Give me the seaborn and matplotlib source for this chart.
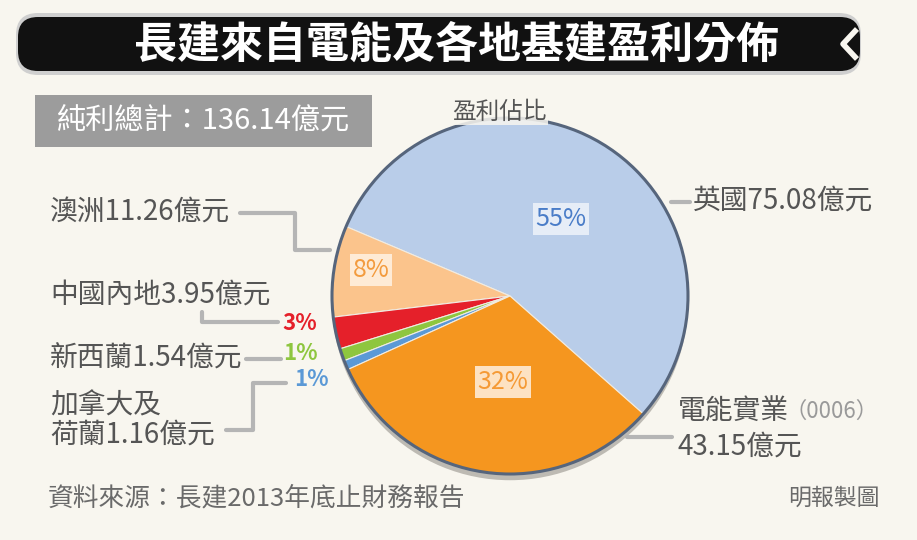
import matplotlib
matplotlib.use("Agg")
import matplotlib.pyplot as plt
import seaborn as sns
from matplotlib.patches import FancyBboxPatch, Rectangle

# ---- data ----
regions = ["英國", "澳洲", "中國內地", "新西蘭", "加拿大及荷蘭", "電能實業"]
profits = [75.08, 11.26, 3.95, 1.54, 1.16, 43.15]  # 億元
slice_colors = ["#b9cde9", "#fbc48c", "#e5202a", "#8ec63f", "#5b99d6", "#f5961f"]
title = "長建來自電能及各地基建盈利分佈"
total_label = "純利總計：136.14億元"
pie_title = "盈利佔比"
source = "資料來源：長建2013年底止財務報告"
credit = "明報製圖"

sns.set_theme(style="white")
plt.rcParams["font.family"] = ["Noto Sans CJK TC", "DejaVu Sans"]

BG = "#f8f6ef"
W, H = 917, 540
fig = plt.figure(figsize=(W / 100, H / 100), dpi=100, facecolor=BG)

# pie axes
cx, cy, R = 510, 296, 178
Ra = R * 1.05
pax = fig.add_axes([(cx - Ra) / W, (H - cy - Ra) / H, 2 * Ra / W, 2 * Ra / H])
pax.set_facecolor("none")
total = sum(profits)
# shadow
pax.pie([1], colors=["#bdbab3"], radius=1.0, center=(0.0, -0.035),
        wedgeprops=dict(linewidth=0))
pax.pie(profits, colors=slice_colors, startangle=-41.5, counterclock=True,
        radius=1.0, wedgeprops=dict(linewidth=0.8, edgecolor="#f1ece2"))
pax.pie([1], colors=["none"], radius=1.0,
        wedgeprops=dict(linewidth=2.2, edgecolor="#56657c", fill=False))
pax.set_xlim(-1.05, 1.05)
pax.set_ylim(-1.05, 1.05)
pax.set_aspect("equal")
pax.axis("off")

# overlay axes in pixel coordinates
ax = fig.add_axes([0, 0, 1, 1], zorder=5)
ax.set_xlim(0, W)
ax.set_ylim(H, 0)
ax.set_facecolor("none")
ax.axis("off")

pct = [f"{round(v / total * 100):d}%" for v in profits]

# title banner
ax.add_patch(FancyBboxPatch((16, 13), 845, 62, boxstyle="round,pad=0,rounding_size=22",
                            facecolor="#cfcfcf", edgecolor="none"))
ax.add_patch(FancyBboxPatch((18, 17), 842, 54, boxstyle="round,pad=0,rounding_size=20",
                            facecolor="#111111", edgecolor="none"))
ax.plot([857, 843, 857], [29, 44, 59], color=BG, lw=4, solid_capstyle="butt")
ax.text(456, 45, title, color="white", fontsize=31, fontweight="bold",
        ha="center", va="center")

# total box
ax.add_patch(Rectangle((35, 95), 337, 52, facecolor="#9c9c9c", edgecolor="none"))
ax.text(204, 121, total_label, color="white", fontsize=21, ha="center", va="center",
        fontweight="medium")

# pie title
ax.text(499, 112, pie_title, color="#555555", fontsize=17, ha="center", va="center",
        bbox=dict(facecolor=BG, edgecolor="none", pad=1, alpha=0.85))

TXT = "#555555"
LINE = "#b5b5b5"
LW = 3.0
FS = 20

# inner percentage labels
ax.text(561, 219, pct[0], color="#4a7dc8", fontsize=18, ha="center", va="center",
        bbox=dict(facecolor="#e6edf7", edgecolor="none", pad=2))
ax.text(371, 270, pct[1], color="#f39b3e", fontsize=18, ha="center", va="center",
        bbox=dict(facecolor="#feebd6", edgecolor="none", pad=2))
ax.text(503, 382, pct[5], color="#f59a35", fontsize=18, ha="center", va="center",
        bbox=dict(facecolor="#fde2c2", edgecolor="none", pad=2))

# outer small percentages
ax.text(300, 323, pct[2], color=slice_colors[2], fontsize=16, ha="center", va="center",
        fontweight="bold")
ax.text(300, 353, pct[3], color=slice_colors[3], fontsize=16, ha="center", va="center",
        fontweight="bold")
ax.text(311, 379, pct[4], color=slice_colors[4], fontsize=16, ha="center", va="center",
        fontweight="bold")

# left labels
ax.text(50, 213, f"{regions[1]}{profits[1]:.2f}億元", color=TXT, fontsize=FS, va="center")
ax.plot([240, 295, 295, 330], [213, 213, 250, 250], color=LINE, lw=LW)

ax.text(50, 295, f"{regions[2]}{profits[2]:.2f}億元", color=TXT, fontsize=FS, va="center")
ax.plot([202, 202, 278], [312, 322, 322], color=LINE, lw=LW)

ax.text(50, 359, f"{regions[3]}{profits[3]:.2f}億元", color=TXT, fontsize=FS, va="center")
ax.plot([246, 281], [359, 359], color=LINE, lw=LW)

ax.text(50, 405, "加拿大及", color=TXT, fontsize=FS, va="center")
ax.text(50, 435, f"荷蘭{profits[4]:.2f}億元", color=TXT, fontsize=FS, va="center")
ax.plot([226, 253, 253, 286], [430, 430, 383, 383], color=LINE, lw=LW)

# right labels
ax.text(693, 201, f"{regions[0]}{profits[0]:.2f}億元", color=TXT, fontsize=FS, va="center")
ax.plot([671, 690], [202, 202], color=LINE, lw=LW)

ax.text(678, 411, "電能實業", color=TXT, fontsize=FS, va="center")
ax.text(785, 411, "（0006）", color="#9a9a9a", fontsize=16, va="center")
ax.text(678, 447, f"{profits[5]:.2f}億元", color=TXT, fontsize=FS, va="center")
ax.plot([627, 672], [437, 437], color=LINE, lw=LW)

# footer
ax.text(48, 498, source, color="#6a6a6a", fontsize=18.5, va="center")
ax.text(880, 498, credit, color="#6a6a6a", fontsize=16.5, va="center", ha="right")

fig.savefig("out.png", dpi=100, facecolor=BG)
